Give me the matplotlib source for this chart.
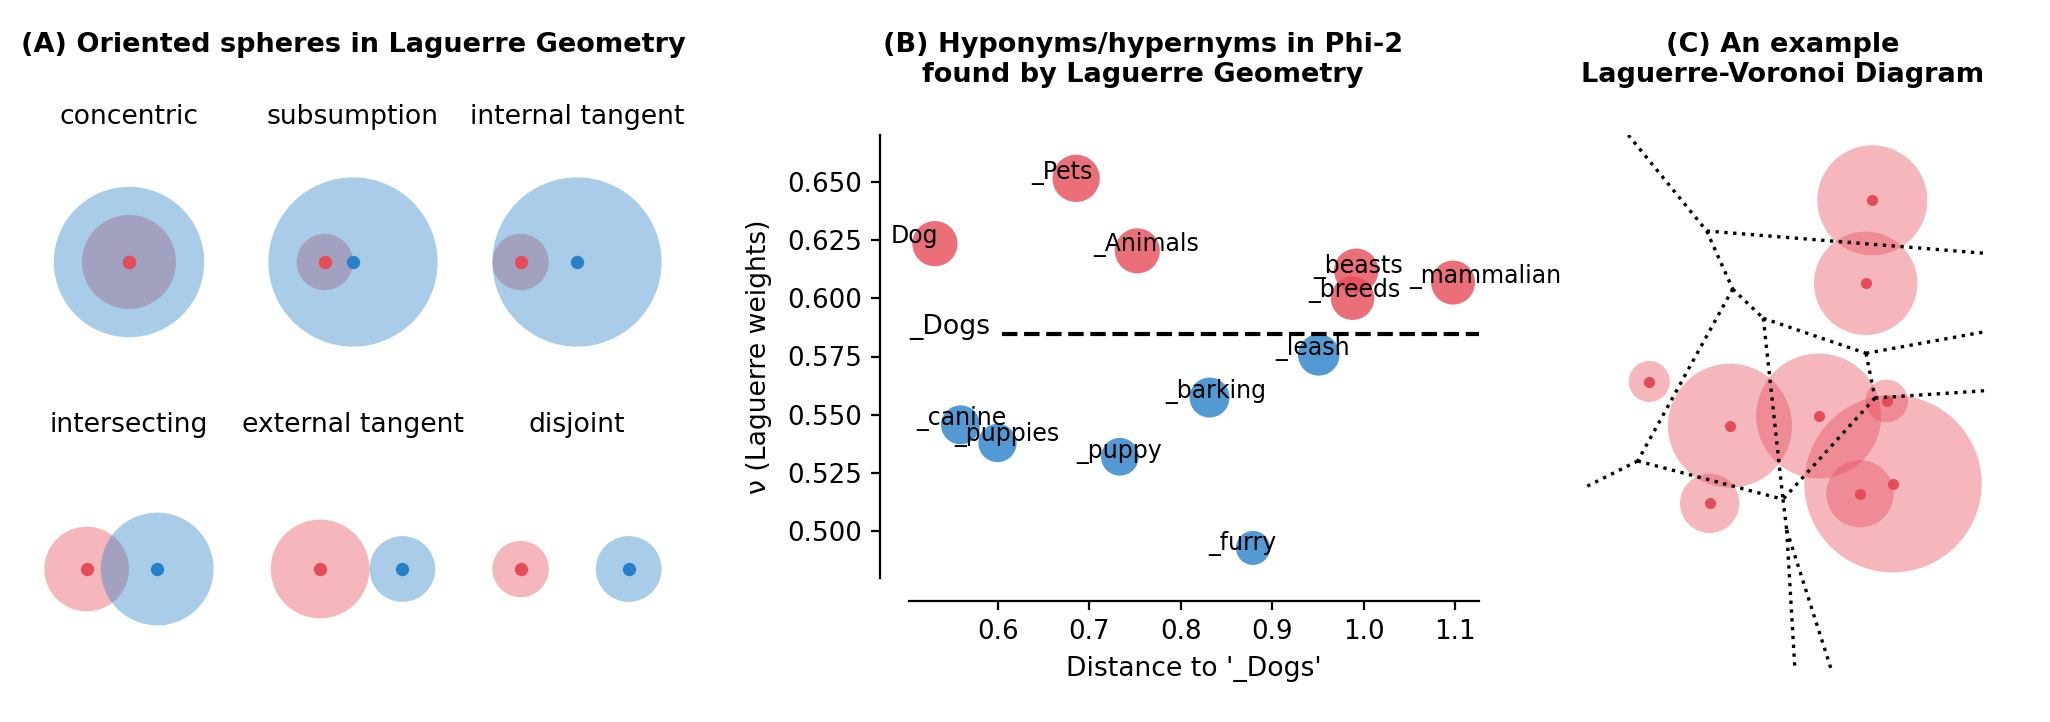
import matplotlib
matplotlib.use('Agg')
import matplotlib.pyplot as plt
import numpy as np
from matplotlib.patches import Circle

RED = '#e64b58'
BLUE = '#2880c8'

# (A) relations between two oriented spheres
relations = ['concentric', 'subsumption', 'internal tangent',
             'intersecting', 'external tangent', 'disjoint']
red_x = [0.0, -0.6, -1.2, 0.0, 0.0, 0.0]
red_r = [1.0, 0.6, 0.6, 0.9, 1.05, 0.6]
blue_x = [0.0, 0.0, 0.0, 1.5, 1.75, 2.3]
blue_r = [1.6, 1.8, 1.8, 1.2, 0.7, 0.7]

# (B) hyponyms / hypernyms of '_Dogs'
words = ['Dog', '_Pets', '_Animals', '_beasts', '_breeds', '_mammalian',
         '_leash', '_barking', '_canine', '_puppies', '_puppy', '_furry']
hypernym = [True, True, True, True, True, True,
            False, False, False, False, False, False]
dist = [0.531, 0.6855, 0.7525, 0.992, 0.988, 1.098,
        0.951, 0.8315, 0.559, 0.5995, 0.7334, 0.879]
nu = [0.6234, 0.6514, 0.6203, 0.6118, 0.6000, 0.6067,
      0.5757, 0.5574, 0.5457, 0.5379, 0.5320, 0.4929]
label_x = [0.5085, 0.6703, 0.7626, 0.9938, 0.9905, 1.133,
           0.9437, 0.8386, 0.5602, 0.6093, 0.7324, 0.8669]
label_y = [0.6236, 0.6510, 0.6203, 0.6110, 0.6007, 0.6065,
           0.5757, 0.5574, 0.5457, 0.5386, 0.5314, 0.4921]
dogs_nu = 0.5846
dogs_label = (0.5477, 0.5846)

# (C) Laguerre-Voronoi example: sites and diagram edges
site_x = [2.873, 2.807, 0.643, 1.45, 2.337, 3.017, 1.247, 2.75, 3.08]
site_y = [4.707, 3.877, 2.895, 2.453, 2.55, 2.70, 1.677, 1.773, 1.873]
site_r = [0.55, 0.517, 0.205, 0.62, 0.625, 0.213, 0.297, 0.337, 0.887]
vert_x = [0.433, 1.217, 4.0, 1.477, 1.783, 2.81, 4.0, 2.90, 4.0,
          0.527, 0.0, 1.98, 2.017, 2.10, 2.467]
vert_y = [5.36, 4.40, 4.177, 3.82, 3.527, 3.177, 3.393, 2.73, 2.803,
          2.10, 1.837, 1.717, 1.41, 0.0, 0.0]
edges = [(0, 1), (1, 2), (1, 3), (3, 4), (3, 9), (4, 5), (4, 11), (5, 6),
         (5, 7), (7, 8), (7, 11), (9, 10), (9, 11), (11, 12), (12, 13), (12, 14)]

W, H = 2050, 722
fig = plt.figure(figsize=(W / 200, H / 200), dpi=200)


def box(left, top, right, bottom):
    return [left / W, 1 - bottom / H, (right - left) / W, (bottom - top) / H]


def title(x, y, s, size=9.6, **kw):
    fig.text(x / W, 1 - y / H, s, ha='center', va='baseline', fontsize=size, **kw)


#(A)
title(353, 52, '(A) Oriented spheres in Laguerre Geometry', size=9.75, fontweight='bold')
unit = 47
col_cx = [129, 353, 577]
row_cy = [262, 569]
row_title = [124, 432]
for i, name in enumerate(relations):
    cx, cy = col_cx[i % 3], row_cy[i // 3]
    ax = fig.add_axes(box(cx - 112, cy - 140, cx + 112, cy + 140))
    ax.add_patch(Circle((red_x[i], 0), red_r[i], color=RED, alpha=0.4, lw=0))
    ax.add_patch(Circle((blue_x[i], 0), blue_r[i], color=BLUE, alpha=0.4, lw=0))
    ax.scatter([blue_x[i]], [0], s=23, color=BLUE, linewidths=0, zorder=3)
    ax.scatter([red_x[i]], [0], s=23, color=RED, linewidths=0, zorder=4)
    lo = min(red_x[i] - red_r[i], blue_x[i] - blue_r[i])
    hi = max(red_x[i] + red_r[i], blue_x[i] + blue_r[i])
    mid = (lo + hi) / 2
    ax.set_xlim(mid - 112 / unit, mid + 112 / unit)
    ax.set_ylim(-140 / unit, 140 / unit)
    ax.axis('off')
    title(cx, row_title[i // 3], name)

#(B)
title(1143, 52, '(B) Hyponyms/hypernyms in Phi-2', size=9.75, fontweight='bold')
title(1143, 82, 'found by Laguerre Geometry', size=9.75, fontweight='bold')
axB = fig.add_axes(box(909, 135, 1479, 578))
colors = [RED if h else BLUE for h in hypernym]
sizes = np.interp(nu, [min(nu), max(nu)], [150, 290])
axB.scatter(dist, nu, s=sizes, c=colors, alpha=0.8, linewidths=0, zorder=2)
for w, lx, ly in zip(words, label_x, label_y):
    axB.text(lx, ly, w, ha='center', va='baseline', fontsize=8.5, zorder=3)
axB.axhline(dogs_nu, xmin=0.164, color='k', ls='--', lw=1.5)
axB.text(dogs_label[0], dogs_label[1], '_Dogs', ha='center', va='baseline', fontsize=9.6)
axB.set_ylim(0.480, 0.670)
axB.set_xlabel("Distance to '_Dogs'", fontsize=9.6)
axB.set_ylabel('ν (Laguerre weights)', fontsize=9.6, labelpad=5.5)
axB.tick_params(labelsize=9.4, length=3.1)
axB.spines['top'].set_visible(False)
axB.spines['right'].set_visible(False)
axB.spines['left'].set_position(('outward', 10.4))
axB.spines['bottom'].set_position(('outward', 8.2))

#(C)
title(1783, 52, '(C) An example', size=9.75, fontweight='bold')
title(1783, 82, 'Laguerre-Voronoi Diagram', size=9.75, fontweight='bold')
axC = fig.add_axes(box(1585, 135, 1985, 671))
for x, y, r in zip(site_x, site_y, site_r):
    axC.add_patch(Circle((x, y), r, color=RED, alpha=0.4, lw=0))
axC.scatter(site_x, site_y, s=16, color=RED, linewidths=0, zorder=3)
for a, b in edges:
    axC.plot([vert_x[a], vert_x[b]], [vert_y[a], vert_y[b]],
             color='k', lw=1.2, ls=':', zorder=4)
axC.set_xlim(0, 4)
axC.set_ylim(0, 5.36)
axC.axis('off')

fig.savefig('out.png', dpi=200)
